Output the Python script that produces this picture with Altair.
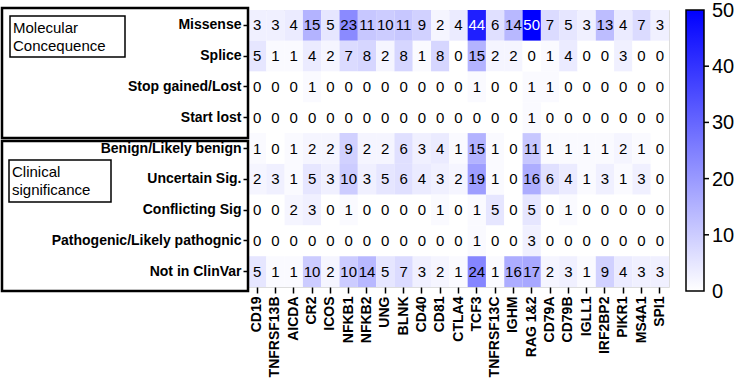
import altair as alt
import pandas as pd

genes = ["CD19", "TNFRSF13B", "AICDA", "CR2", "ICOS", "NFKB1", "NFKB2", "UNG", "BLNK",
         "CD40", "CD81", "CTLA4", "TCF3", "TNFRSF13C", "IGHM", "RAG 1&2", "CD79A",
         "CD79B", "IGLL1", "IRF2BP2", "PIKR1", "MS4A1", "SPI1"]
rows = ["Missense", "Splice", "Stop gained/Lost ", "Start lost", "Benign/Likely benign",
        "Uncertain Sig.", "Conflicting Sig", "Pathogenic/Likely pathognic", "Not in ClinVar"]

missense = [3, 3, 4, 15, 5, 23, 11, 10, 11, 9, 2, 4, 44, 6, 14, 50, 7, 5, 3, 13, 4, 7, 3]
splice = [5, 1, 1, 4, 2, 7, 8, 2, 8, 1, 8, 0, 15, 2, 2, 0, 1, 4, 0, 0, 3, 0, 0]
stop_gained_lost = [0, 0, 0, 1, 0, 0, 0, 0, 0, 0, 0, 0, 1, 0, 0, 1, 1, 0, 0, 0, 0, 0, 0]
start_lost = [0, 0, 0, 0, 0, 0, 0, 0, 0, 0, 0, 0, 0, 0, 0, 1, 0, 0, 0, 0, 0, 0, 0]
benign = [1, 0, 1, 2, 2, 9, 2, 2, 6, 3, 4, 1, 15, 1, 0, 11, 1, 1, 1, 1, 2, 1, 0]
uncertain = [2, 3, 1, 5, 3, 10, 3, 5, 6, 4, 3, 2, 19, 1, 0, 16, 6, 4, 1, 3, 1, 3, 0]
conflicting = [0, 0, 2, 3, 0, 1, 0, 0, 0, 0, 1, 0, 1, 5, 0, 5, 0, 1, 0, 0, 0, 0, 0]
pathogenic = [0, 0, 0, 0, 0, 0, 0, 0, 0, 0, 0, 0, 1, 0, 0, 3, 0, 0, 0, 0, 0, 0, 0]
not_in_clinvar = [5, 1, 1, 10, 2, 10, 14, 5, 7, 3, 2, 1, 24, 1, 16, 17, 2, 3, 1, 9, 4, 3, 3]

legend_values = [0, 10, 20, 30, 40, 50]
inner_ticks = [10, 20, 30, 40]

series = [missense, splice, stop_gained_lost, start_lost, benign, uncertain,
          conflicting, pathogenic, not_in_clinvar]

records = []
for r, vals in zip(rows, series):
    for g, v in zip(genes, vals):
        records.append({"row": r, "gene": g, "value": v})
df = pd.DataFrame(records)
one = pd.DataFrame({"k": [0]})
ticks_df = pd.DataFrame({"v": inner_ticks})
leg_df = pd.DataFrame({"v": legend_values})

FONT = "Liberation Sans"
GRAD_LEN = 281
PLOT_H = 277

x_enc = alt.X("gene:N", sort=genes, title=None,
              axis=alt.Axis(labelAngle=-90, labelFontWeight="bold", labelFontSize=14,
                            tickSize=6, tickColor="black", tickWidth=1.5, domain=False,
                            labelPadding=3, labelColor="black", labelFont=FONT))
y_enc = alt.Y("row:N", sort=rows, title=None,
              axis=alt.Axis(labelFontWeight="bold", labelFontSize=14, tickSize=5,
                            tickColor="black", tickWidth=1.5, domain=False,
                            labelPadding=2, labelColor="black", labelFont=FONT,
                            labelLimit=300))

base = alt.Chart(df)

heat = base.mark_rect().encode(
    x=x_enc, y=y_enc,
    color=alt.Color("value:Q",
                    scale=alt.Scale(domain=[0, 50], range=["#ffffff", "#0000ff"],
                                    interpolate="rgb"),
                    legend=alt.Legend(title=None, labelExpr="''", labelFontSize=1,
                                      values=[0, 50],
                                      gradientLength=GRAD_LEN, gradientThickness=18,
                                      offset=17, padding=0,
                                      gradientStrokeColor="black",
                                      gradientStrokeWidth=1.5)),
)

txt = base.mark_text(fontSize=15, font=FONT).encode(
    x=alt.X("gene:N", sort=genes),
    y=alt.Y("row:N", sort=rows),
    text="value:Q",
    color=alt.condition(alt.datum.value > 35, alt.value("white"), alt.value("black")),
)

# small tick marks on the colour bar's right edge
bar_ticks = alt.Chart(ticks_df).transform_calculate(
    py=f"(50 - datum.v) / 50 * {GRAD_LEN}"
).mark_rule(color="black", strokeWidth=1.5).encode(
    y=alt.Y("py:Q", scale=None),
    x=alt.value(450), x2=alt.value(461),
)

# colour bar labels
bar_labels = alt.Chart(leg_df).transform_calculate(
    py=f"(50 - datum.v) / 50 * {GRAD_LEN} + 1"
).mark_text(align="left", baseline="middle", fontSize=20, font=FONT,
            color="black").encode(
    y=alt.Y("py:Q", scale=None),
    x=alt.value(464),
    text="v:Q",
)

def box(x1, x2, y1, y2, sw):
    return alt.Chart(one).mark_rect(fillOpacity=0, stroke="black", strokeWidth=sw).encode(
        x=alt.value(x1), x2=alt.value(x2), y=alt.value(y1), y2=alt.value(y2))

def label(text, x, y):
    return alt.Chart(one).mark_text(align="left", baseline="middle", fontSize=15,
                                    font=FONT, color="black").encode(
        x=alt.value(x), y=alt.value(y), text=alt.value(text))

chart = alt.layer(
    heat, txt, bar_ticks, bar_labels,
    box(-246, 0, -2, 128, 2.5),
    box(-246, 0, 131, 281, 2.5),
    box(-238, -123, 6, 47, 1.5),
    box(-239, -137, 150, 192, 1.5),
    label("Molecular", -235, 18), label("Concequence", -235, 36),
    label("Clinical", -236, 162), label("significance", -236, 180),
).properties(
    width=421, height=PLOT_H,
    autosize=alt.AutoSizeParams(type="none"),
    padding={"left": 248, "top": 10, "right": 68, "bottom": 94},
).configure_view(
    stroke="black", strokeWidth=2.5
).configure(background="white")

chart.save("out.html", embed_options={"renderer": "svg", "actions": False})
